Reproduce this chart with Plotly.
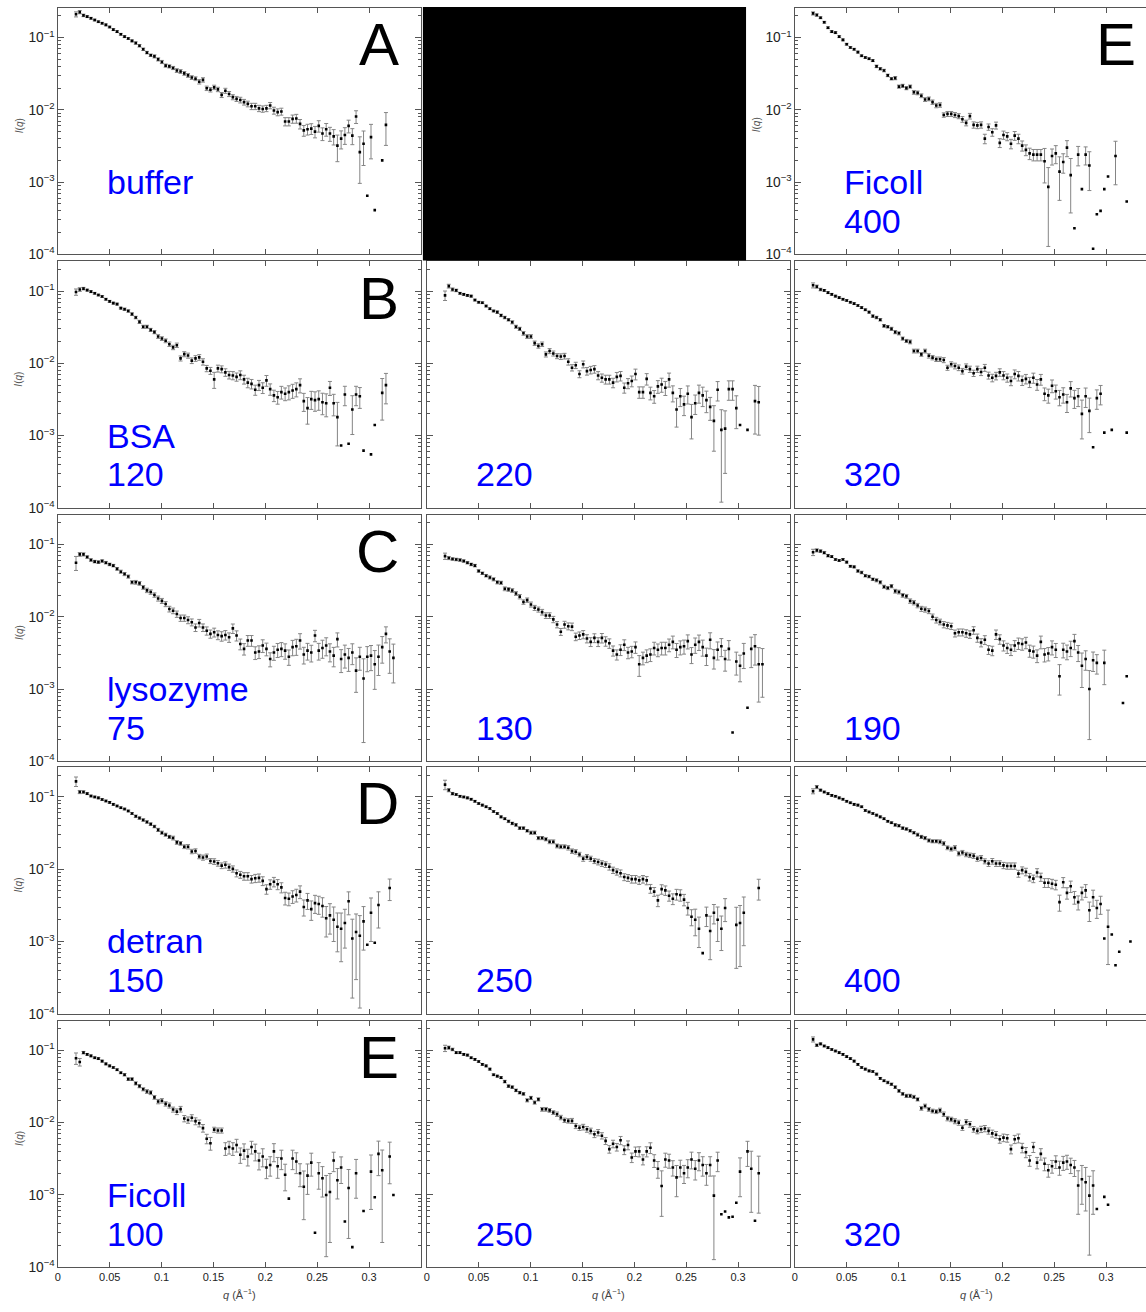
import plotly.graph_objects as go

N = None
# momentum transfer grid q (1/Angstrom)
Q = [0.0175, 0.0211, 0.0247, 0.0283, 0.0319, 0.0355, 0.0391, 0.0427, 0.0463, 0.0499,
     0.0535, 0.0571, 0.0607, 0.0643, 0.0679, 0.0715, 0.0751, 0.0787, 0.0823, 0.0859,
     0.0895, 0.0931, 0.0967, 0.1003, 0.1039, 0.1075, 0.1111, 0.1147, 0.1183, 0.1219,
     0.1255, 0.1291, 0.1327, 0.1363, 0.1399, 0.1435, 0.1471, 0.1507, 0.1543, 0.1579,
     0.1615, 0.1651, 0.1687, 0.1723, 0.1759, 0.1795, 0.1831, 0.1867, 0.1903, 0.1939,
     0.1975, 0.2011, 0.2047, 0.2083, 0.2119, 0.2155, 0.2191, 0.2227, 0.2263, 0.2299,
     0.2335, 0.2371, 0.2407, 0.2443, 0.2479, 0.2515, 0.2551, 0.2587, 0.2623, 0.2659,
     0.2695, 0.2731, 0.2767, 0.2803, 0.2839, 0.2875, 0.2911, 0.2947, 0.2983, 0.3019,
     0.3055, 0.3091, 0.3127, 0.3163, 0.3199, 0.3235]

# Intensities I(q) in units of 1e-3 ; errors in percent (0 = no error bar drawn)
buffer_I = [210, 225, 203, 195, 185, 175, 166, 158, 150, 140,
            129, 121, 111, 103, 97, 90, 84, 77, 69, 62,
            57, 55, 50, 46, 41, 40, 38, 35, 34, 32,
            30, 28, 27, 24.5, 26, 19.9, 19.0, 20.5, 19.2, 16.1,
            18.4, 16.6, 15, 14.2, 13.7, 12.8, 12.1, 11.2, 11.2, 10.5,
            10.3, 10.5, 11.5, 9.8, 9.3, 9.5, 6.9, 6.9, 7.5, 7.6,
            6.4, 5.2, 5.4, 5.5, 5.0, 6.0, 4.7, 5.4, 4.7, 4.3,
            3.2, 4.0, 4.5, 6.0, 4.4, 8.1, 2.6, 3.4, 0.65, 4.2,
            0.41, N, 2.0, 6.2]
buffer_E = [8, 5, 4, 3, 3, 3, 3, 3, 3, 3,
            3, 3, 3, 3, 3, 3, 4, 4, 4, 4,
            4, 5, 5, 5, 5, 5, 5, 6, 6, 6,
            6, 6, 6, 7, 7, 7, 7, 7, 7, 8,
            8, 8, 8, 8, 9, 9, 9, 10, 10, 10,
            10, 10, 10, 11, 11, 11, 13, 13, 13, 14,
            15, 17, 17, 17, 18, 18, 20, 20, 22, 24,
            40, 28, 26, 20, 25, 20, 63, 50, 0, 50,
            0, 0, 0, 48]

bsa120_I = [97, 105, 108, 103, 98, 93, 88, 84, 77, 72,
            68, 66, 58, 56, 53, 48, 43, 37.5, 32, 32,
            29, 27, 23.5, 22, 20.5, 18.4, 16.6, 17.8, 11.7, 13.4,
            12.8, 10.9, 11.7, 12.1, 10.5, 8.5, 7.9, 6.0, 8.5, 8.3,
            7.5, 6.9, 6.8, 6.5, 6.9, 6.0, 5.4, 5.2, 4.3, 5.0,
            4.6, 5.8, 4.4, 3.6, 3.4, 4.0, 3.8, 4.0, 4.2, 4.4,
            5.0, 3.0, 2.4, 3.2, 3.1, 3.2, 2.9, 2.8, 4.6, 2.8,
            1.8, 0.73, 3.7, 0.77, 2.3, 3.7, 3.5, 0.62, N, 0.55,
            1.4, N, 3.9, 5.0]
bsa120_E = [10, 6, 4, 3, 3, 3, 3, 3, 3, 3,
            3, 3, 3, 4, 4, 4, 4, 5, 5, 5,
            5, 5, 6, 6, 6, 7, 7, 7, 8, 8,
            8, 9, 9, 9, 10, 10, 11, 25, 11, 11,
            12, 12, 13, 13, 14, 14, 15, 15, 16, 16,
            17, 17, 18, 18, 20, 20, 20, 22, 22, 22,
            22, 28, 40, 28, 30, 30, 33, 35, 22, 33,
            60, 0, 30, 0, 55, 30, 32, 0, 0, 0,
            0, 0, 58, 45]

bsa220_I = [87, 117, 105, 102, 93, 90, 87, 85, 75, 70,
            69, 62, 57, 53, 51, 46, 43, 40, 37, 32,
            30, 26, 23.5, 23.5, 19.0, 17.4, 18.4, 13.3, 14.8, 13.7,
            12.6, 12.4, 12.6, 10.5, 8.7, 9.4, 7.1, 9.7, 7.8, 8.1,
            8.3, 6.8, 6.3, 6.0, 6.0, 5.4, 6.5, 6.7, 4.6, 5.3,
            5.7, 7.1, 4.0, 4.0, 6.1, 3.9, 3.5, 4.8, 5.1, 4.6,
            6.0, 3.9, 2.3, 3.5, 2.7, 3.8, 1.8, 2.8, 3.9, 3.6,
            3.1, 2.5, 1.6, 4.3, 1.2, 1.25, 4.4, 4.4, 2.4, 1.4,
            N, 1.2, N, 3.0, 2.9]
bsa220_E = [15, 6, 5, 4, 3, 3, 3, 3, 3, 3,
            3, 3, 3, 3, 4, 4, 4, 4, 5, 5,
            5, 6, 6, 6, 7, 7, 7, 8, 8, 8,
            8, 9, 9, 10, 10, 10, 11, 11, 12, 12,
            12, 13, 13, 14, 14, 15, 15, 15, 16, 16,
            17, 17, 18, 18, 18, 20, 20, 20, 22, 22,
            22, 25, 43, 28, 30, 28, 50, 30, 28, 30,
            33, 35, 62, 30, 90, 76, 30, 30, 48, 0,
            0, 0, 0, 65, 65]

bsa320_I = [120, 115, 105, 102, 95, 90, 85, 81, 77, 74,
            70, 67, 63, 59, 55, 51, 45, 43, 40, 33,
            32, 30, 27, 26, 22, 20.4, 19.8, 14.8, 14.8, 13.3,
            14.8, 12.7, 12.0, 11.4, 11.4, 11.1, 8.7, 9.7, 9.2, 8.7,
            7.8, 9.0, 8.3, 7.3, 8.3, 7.6, 8.7, 6.8, 6.3, 6.7,
            7.5, 6.8, 6.3, 5.7, 7.1, 6.7, 5.8, 6.1, 5.5, 6.3,
            5.1, 6.0, 3.8, 3.6, 4.9, 4.1, 3.4, 3.7, 2.9, 4.5,
            3.3, 3.5, 2.0, 3.5, 2.2, 0.69, 3.3, 3.8, 1.1, N,
            1.2, N, N, N, 1.1]
bsa320_E = [8, 5, 4, 3, 3, 3, 3, 3, 3, 3,
            3, 3, 3, 3, 3, 3, 4, 4, 4, 4,
            4, 5, 5, 5, 5, 5, 6, 6, 6, 6,
            6, 7, 7, 7, 7, 8, 8, 8, 9, 9,
            9, 9, 10, 10, 10, 11, 11, 11, 12, 12,
            12, 13, 13, 14, 14, 15, 15, 15, 16, 16,
            17, 17, 20, 22, 20, 22, 24, 24, 28, 24,
            28, 28, 55, 30, 50, 0, 30, 30, 0, 0,
            0, 0, 0, 0, 0]

lys75_I = [56, 73, 73, 67, 61, 58, 57, 59, 56, 53,
           51, 46, 42, 39, 36, 30, 30, 29, 25.5, 23.2,
           22, 20, 17.9, 16.6, 15, 12.8, 12.1, 10.9, 9.6, 9.6,
           9.0, 8.4, 7.1, 8.2, 7.1, 6.4, 5.8, 6.1, 5.6, 5.4,
           5.6, 5.2, 6.9, 5.5, 4.2, 3.6, 4.7, 4.7, 3.2, 3.3,
           4.0, 3.6, 2.6, 3.2, 3.5, 3.6, 3.4, 2.8, 3.8, 3.9,
           4.7, 3.0, 3.4, 3.2, 5.5, 3.4, 3.7, 4.0, 3.3, 2.9,
           4.9, 2.6, 3.0, 2.7, 3.2, 1.8, 2.8, 1.4, 2.8, 2.9,
           2.2, 2.8, 3.8, 5.8, 3.3, 2.7]
lys75_E = [22, 6, 5, 4, 4, 4, 4, 4, 4, 4,
           4, 4, 5, 5, 5, 5, 6, 6, 6, 7,
           7, 7, 8, 8, 8, 9, 9, 10, 10, 10,
           11, 11, 12, 12, 12, 13, 13, 14, 14, 15,
           15, 15, 15, 16, 17, 18, 17, 17, 20, 20,
           20, 20, 22, 22, 22, 22, 24, 24, 24, 25,
           24, 26, 26, 26, 18, 26, 28, 28, 28, 30,
           22, 35, 35, 35, 32, 50, 35, 87, 38, 38,
           55, 45, 40, 25, 50, 55]

lys130_I = [69, 65, 63, 62, 61, 59, 56, 53, 51, 43,
            40, 37, 35, 33, 30, 29.5, 24.4, 23.9, 23.1, 21,
            19, 16, 17, 14.8, 13.3, 12.6, 11.6, 10.4, 10.4, 9.2,
            7.8, 6.2, 7.8, 7.4, 7.3, 5.3, 5.5, 5.7, 5.0, 4.5,
            5.1, 4.5, 5.1, 4.6, 4.3, 3.4, 3.0, 3.5, 4.1, 3.2,
            3.3, 3.8, 2.2, 2.7, 2.9, 3.0, 3.7, 3.5, 3.7, 3.7,
            4.1, 4.5, 3.5, 3.8, 3.9, 4.6, 3.0, 4.1, 4.5, 3.8,
            2.9, 4.8, 2.7, 3.5, 3.9, 2.6, 3.6, 0.25, 2.4, 2.1,
            3.1, 0.55, 3.6, 3.9, 2.2, 2.2]
lys130_E = [10, 5, 4, 4, 4, 4, 4, 4, 4, 4,
            4, 4, 5, 5, 5, 5, 6, 6, 6, 6,
            7, 7, 7, 8, 8, 8, 9, 9, 9, 10,
            10, 11, 11, 11, 12, 12, 12, 13, 13, 14,
            14, 14, 15, 15, 15, 16, 16, 17, 17, 18,
            18, 18, 32, 20, 20, 20, 20, 20, 20, 20,
            20, 20, 22, 22, 22, 22, 25, 24, 24, 25,
            27, 25, 30, 28, 28, 32, 30, 0, 35, 40,
            38, 0, 45, 45, 70, 65]

lys190_I = [78, 83, 81, 77, 70, 68, 62, 60, 62, 57,
            50, 49, 43, 41, 37, 36, 33, 32, 30, 26,
            25, 26.5, 22.6, 22, 19.8, 19.2, 16.5, 15.7, 14.3, 12.9,
            12.6, 12.0, 10.0, 9.0, 8.5, 7.8, 7.6, 7.4, 5.9, 6.1,
            6.1, 5.9, 5.7, 6.5, 5.1, 4.4, 4.8, 3.5, 3.4, 5.7,
            4.9, 4.0, 3.7, 3.5, 4.0, 4.3, 4.2, 4.4, 3.4, 3.3,
            2.9, 4.5, 3.0, 3.1, 3.8, 3.5, 1.5, 3.5, 3.3, 3.7,
            4.6, 3.2, 2.1, 2.6, 1.0, 2.5, 2.3, N, 2.3, N,
            N, N, N, 0.64, 1.5]
lys190_E = [10, 5, 4, 4, 4, 3, 3, 3, 3, 3,
            3, 3, 4, 4, 4, 4, 4, 5, 5, 5,
            5, 5, 6, 6, 6, 6, 7, 7, 7, 8,
            8, 8, 9, 9, 9, 10, 10, 10, 11, 11,
            11, 12, 12, 12, 13, 13, 14, 14, 15, 15,
            15, 16, 16, 17, 17, 18, 18, 18, 19, 19,
            20, 20, 21, 21, 22, 22, 45, 23, 23, 24,
            24, 25, 50, 30, 80, 30, 30, 0, 50, 0,
            0, 0, 0, 0, 0]

dex150_I = [164, 117, 117, 111, 103, 100, 97, 92, 88, 84,
            79, 75, 71, 68, 64, 59, 54, 51, 48, 45,
            42, 39, 35, 32, 30, 28, 27, 23.5, 22.8, 20.5,
            20.5, 17.6, 17.9, 15, 14.5, 15, 13, 12.8, 12.1, 11.2,
            11.5, 10.7, 10.1, 8.8, 8.4, 8.0, 8.0, 7.3, 7.5, 7.6,
            6.9, 5.3, 6.2, 6.7, 6.2, 5.6, 4.0, 3.9, 4.2, 4.4,
            4.9, 3.0, 3.7, 2.8, 3.4, 3.3, 3.1, 2.1, 2.3, 2.0,
            1.6, 1.5, 1.8, 3.6, 1.1, 1.35, 1.2, 1.9, 0.9, 2.5,
            0.96, 3.2, N, N, 5.5]
dex150_E = [15, 5, 4, 3, 3, 3, 3, 3, 3, 3,
            3, 3, 3, 3, 3, 3, 4, 4, 4, 4,
            4, 4, 5, 5, 5, 5, 6, 6, 6, 6,
            7, 7, 7, 7, 8, 8, 8, 9, 9, 9,
            10, 10, 10, 11, 11, 12, 12, 12, 13, 13,
            14, 15, 15, 15, 16, 16, 20, 20, 20, 20,
            20, 25, 25, 30, 28, 28, 30, 45, 45, 50,
            55, 65, 55, 35, 85, 78, 90, 60, 0, 60,
            0, 52, 0, 0, 33]

dex250_I = [148, 124, 111, 108, 102, 100, 97, 93, 87, 81,
            77, 73, 69, 63, 59, 53, 50, 46, 43, 41,
            37, 37, 34, 32, 32, 27, 27, 26, 24, 24,
            21, 20.5, 20.5, 19.8, 17.8, 17.4, 16, 14, 14.8, 14,
            13, 12.6, 12.0, 11.6, 10.8, 9.7, 9.2, 8.8, 7.8, 7.6,
            7.3, 7.3, 7.0, 7.3, 7.0, 5.4, 4.9, 3.7, 5.3, 5.1,
            4.3, 3.9, 4.5, 4.4, 3.8, 2.9, 2.2, 2.0, 1.5, 0.69,
            2.3, 1.4, 2.5, 2.0, 1.5, 2.9, N, N, 1.7, 1.8,
            2.5, N, N, N, 5.5]
dex250_E = [15, 5, 4, 3, 3, 3, 3, 3, 3, 3,
            3, 3, 3, 3, 3, 3, 3, 4, 4, 4,
            4, 4, 4, 5, 5, 5, 5, 5, 6, 6,
            6, 6, 6, 7, 7, 7, 7, 8, 8, 8,
            8, 9, 9, 9, 10, 10, 10, 11, 11, 11,
            12, 12, 12, 12, 13, 14, 14, 18, 15, 15,
            16, 17, 17, 18, 18, 20, 25, 40, 45, 0,
            30, 60, 30, 50, 50, 35, 0, 0, 75, 75,
            65, 0, 0, 0, 32]

dex400_I = [120, 137, 124, 117, 111, 105, 102, 97, 93, 87,
            83, 79, 77, 73, 65, 62, 59, 56, 53, 50,
            46, 44, 41, 40, 37, 36, 34, 32, 30, 28,
            27, 25, 24.4, 24.4, 24, 22.7, 19.8, 19, 19.8, 16.5,
            17, 16, 15.6, 15.3, 14, 14.3, 12.9, 12.0, 12.9, 12.0,
            12.0, 11.3, 11.1, 11.1, 11.1, 8.7, 9.7, 9.2, 7.8, 7.4,
            9.0, 7.8, 6.5, 6.5, 6.3, 6.1, 3.5, 6.6, 4.7, 5.8,
            4.1, 3.5, 4.7, 5.1, 2.7, 4.1, 2.9, 3.3, 1.1, 1.6,
            1.25, 0.47, 0.72, N, N, 1.0]
dex400_E = [8, 5, 3, 3, 3, 3, 3, 3, 3, 3,
            3, 3, 3, 3, 3, 3, 3, 3, 3, 3,
            3, 3, 4, 4, 4, 4, 4, 4, 5, 5,
            5, 5, 5, 5, 6, 6, 6, 6, 7, 7,
            7, 7, 7, 8, 8, 8, 8, 9, 9, 9,
            9, 10, 10, 10, 10, 11, 11, 12, 12, 12,
            13, 13, 14, 14, 15, 15, 25, 16, 18, 18,
            20, 22, 20, 20, 30, 25, 28, 28, 0, 70,
            0, 0, 0, 0, 0, 0]

fic100_I = [78, 69, 93, 88, 84, 79, 77, 71, 65, 61,
            58, 54, 49, 46, 40, 40, 35, 32, 29, 27,
            26, 22.4, 19.6, 20.1, 18.2, 17.3, 15.2, 14.2, 15.4, 11.4,
            10.9, 11.7, 10.5, 9.8, 8.4, 6.0, 5.2, 8.0, 7.8, 7.8,
            4.4, 4.6, 4.4, 4.9, 3.6, 4.1, 3.4, 4.6, 4.0, 3.0,
            3.4, 2.4, 2.6, 4.0, 2.5, 3.2, 1.9, 0.89, 3.2, 2.9,
            2.0, 1.3, 1.85, 2.8, 0.3, 2.0, 1.7, 1.0, 1.1, 3.0,
            1.6, 2.4, 0.43, 1.25, 0.19, 2.0, N, 0.6, N, 2.1,
            0.93, 3.7, 2.2, N, 3.4, 1.0]
fic100_E = [18, 12, 4, 3, 3, 3, 3, 3, 3, 3,
            3, 3, 3, 4, 4, 4, 5, 5, 5, 6,
            6, 6, 7, 7, 7, 8, 8, 9, 9, 10,
            10, 10, 11, 11, 12, 15, 20, 8, 8, 8,
            20, 20, 20, 20, 24, 24, 26, 20, 26, 26,
            28, 30, 30, 28, 32, 30, 40, 0, 30, 32,
            35, 65, 45, 35, 0, 40, 45, 86, 80, 30,
            45, 40, 0, 80, 0, 55, 0, 0, 0, 70,
            0, 50, 90, 0, 58, 0]

fic250_I = [107, 109, 103, 93, 93, 88, 86, 79, 75, 70,
            64, 61, 55, 46, 44, 42, 37, 32, 31, 28,
            26, 25, 20.4, 22, 19, 21, 15.3, 15.3, 14.8, 13.8,
            13.1, 11.8, 10.8, 10.6, 10.6, 9.0, 8.5, 8.7, 8.1, 7.7,
            6.9, 7.3, 6.6, 5.6, 4.3, 5.1, 4.6, 5.7, 4.2, 4.9,
            3.3, 4.0, 4.0, 3.1, 4.0, 4.5, 3.0, 2.3, 1.33, 3.1,
            3.0, 2.4, 1.75, 2.4, 2.0, 2.4, 3.1, 2.3, 3.0, 2.6,
            2.0, 2.6, 0.98, 3.0, 0.54, 0.59, 0.49, 0.5, 0.78, 2.1,
            N, 4.0, 2.3, 0.44, 2.0]
fic250_E = [10, 5, 4, 3, 3, 3, 3, 3, 3, 3,
            3, 3, 3, 3, 3, 3, 4, 4, 4, 4,
            4, 4, 5, 5, 5, 5, 6, 6, 6, 6,
            7, 7, 7, 7, 8, 8, 8, 9, 9, 9,
            10, 10, 10, 11, 12, 12, 12, 13, 14, 14,
            15, 15, 16, 16, 16, 17, 20, 26, 62, 22,
            22, 24, 46, 26, 28, 28, 26, 30, 28, 30,
            32, 30, 87, 30, 0, 0, 0, 0, 0, 55,
            0, 38, 75, 0, 72]

fic320_I = [142, 118, 123, 115, 109, 103, 98, 93, 88, 82,
            77, 71, 64, 58, 55, 52, 51, 47, 41, 38,
            36, 34, 31, 27.5, 25, 23.5, 23.5, 22.7, 21, 15.8,
            17, 15.3, 14.5, 14.2, 14.8, 13.1, 11.4, 11.1, 10.5, 10.0,
            8.5, 10.2, 9.5, 8.1, 7.7, 8.1, 8.3, 7.7, 7.1, 6.8,
            5.9, 6.2, 6.1, 4.3, 5.9, 6.1, 4.5, 3.9, 3.0, 4.6,
            2.8, 3.7, 2.7, 2.2, 2.5, 2.9, 2.4, 2.8, 2.9, 2.6,
            2.4, 1.35, 1.65, 1.5, 0.98, 1.35, 0.64, N, 0.94, 0.73]
fic320_E = [8, 4, 3, 3, 3, 3, 3, 3, 3, 3,
            3, 3, 3, 3, 3, 3, 3, 3, 3, 3,
            4, 4, 4, 4, 4, 5, 5, 5, 5, 6,
            6, 6, 6, 6, 7, 7, 7, 7, 8, 8,
            8, 8, 9, 9, 9, 10, 10, 10, 11, 11,
            12, 12, 12, 14, 13, 14, 15, 16, 17, 16,
            18, 18, 20, 20, 20, 20, 22, 22, 22, 24,
            25, 60, 55, 60, 85, 60, 0, 0, 0, 0]

fic400_I = [216, 205, 188, 163, 137, 121, 117, 103, 93, 81,
            73, 69, 63, 56, 53, 51, 48, 40, 37, 35,
            30, 27, 27.5, 21, 21.5, 20, 21, 17.5, 17.2, 15.7,
            13.9, 14.2, 12.8, 11.5, 11.7, 8.5, 8.8, 8.8, 8.5, 8.2,
            7.4, 6.6, 8.2, 6.2, 6.1, 6.2, 4.0, 5.8, 4.9, 6.1,
            3.5, 4.5, 4.3, 3.4, 4.4, 4.0, 3.2, 2.8, 2.5, 2.4,
            2.4, 2.4, 1.95, 0.86, 2.3, 2.5, 1.4, 1.9, 3.0, 1.25,
            0.23, 2.4, 0.8, 2.4, 1.7, 0.12, 0.36, 0.4, 0.8, 1.2,
            N, 2.3, N, N, 0.54]
fic400_E = [5, 4, 3, 3, 3, 3, 3, 3, 3, 3,
            3, 3, 3, 3, 3, 3, 3, 4, 4, 4,
            4, 4, 5, 5, 5, 5, 5, 6, 6, 6,
            6, 6, 7, 7, 7, 7, 8, 8, 8, 8,
            9, 9, 9, 10, 10, 10, 15, 10, 12, 11,
            14, 13, 13, 15, 14, 15, 16, 17, 18, 18,
            18, 18, 50, 85, 25, 28, 60, 30, 25, 70,
            0, 30, 0, 28, 55, 0, 0, 0, 0, 0,
            0, 60, 0, 0, 0]

# panel layout: (row, col, I, E, big letter, label line 1, label line 2)
PANELS = [
    (0, 0, buffer_I, buffer_E, "A", "buffer", None),
    (0, 2, fic400_I, fic400_E, "E", "Ficoll", "400"),
    (1, 0, bsa120_I, bsa120_E, "B", "BSA", "120"),
    (1, 1, bsa220_I, bsa220_E, None, None, "220"),
    (1, 2, bsa320_I, bsa320_E, None, None, "320"),
    (2, 0, lys75_I, lys75_E, "C", "lysozyme", "75"),
    (2, 1, lys130_I, lys130_E, None, None, "130"),
    (2, 2, lys190_I, lys190_E, None, None, "190"),
    (3, 0, dex150_I, dex150_E, "D", "detran", "150"),
    (3, 1, dex250_I, dex250_E, None, None, "250"),
    (3, 2, dex400_I, dex400_E, None, None, "400"),
    (4, 0, fic100_I, fic100_E, "E", "Ficoll", "100"),
    (4, 1, fic250_I, fic250_E, None, None, "250"),
    (4, 2, fic320_I, fic320_E, None, None, "320"),
]

X_TICKS = [0, 0.05, 0.1, 0.15, 0.2, 0.25, 0.3]
X_TICKTEXT = ["0", "0.05", "0.1", "0.15", "0.2", "0.25", "0.3"]

W, H = 1146, 1312
ROW_TOP = [8, 263, 518, 772, 1027]
PANEL_H = 248
COL_X = [(55, 419), (425, 789), (794, 1146)]
COL_XMAX = [0.35, 0.35, 0.3385]
Y_RANGE = [-4, -0.59]

FONT = "Liberation Sans, Arial, Helvetica, sans-serif"
AXCOL = "#555555"

fig = go.Figure()
layout = dict(width=W, height=H, margin=dict(l=0, r=0, t=0, b=0),
              paper_bgcolor="white", plot_bgcolor="white", showlegend=False,
              font=dict(family=FONT, size=11, color="#222222"))
annotations = []

for k, (r, c, Iv, Ev, letter, l1, l2) in enumerate(PANELS, start=1):
    xs = "" if k == 1 else str(k)
    qb, ib, eb, qd, idd = [], [], [], [], []
    for q, iv, ev in zip(Q, Iv, Ev):
        if iv is None:
            continue
        val = iv * 1e-3
        if ev and ev > 0:
            qb.append(q); ib.append(val); eb.append(val * ev / 100.0)
        else:
            qd.append(q); idd.append(val)
    fig.add_trace(go.Scatter(
        x=qb, y=ib, mode="markers", xaxis="x" + xs, yaxis="y" + xs,
        marker=dict(symbol="square", size=2.6, color="black"),
        error_y=dict(type="data", array=eb, visible=True, color="#858585",
                     thickness=1, width=2),
        hoverinfo="skip"))
    fig.add_trace(go.Scatter(
        x=qd, y=idd, mode="markers", xaxis="x" + xs, yaxis="y" + xs,
        marker=dict(symbol="square", size=2.6, color="black"),
        hoverinfo="skip"))

    x0, x1 = COL_X[c]
    top = ROW_TOP[r]
    bot = top + PANEL_H
    layout["xaxis" + xs] = dict(
        domain=[x0 / W, x1 / W], range=[0, COL_XMAX[c]], anchor="y" + xs,
        showline=True, linecolor=AXCOL, linewidth=1, mirror="ticks",
        ticks="inside", ticklen=5, tickcolor=AXCOL, tickwidth=1,
        tickvals=X_TICKS, ticktext=X_TICKTEXT, showticklabels=(r == 4),
        showgrid=False, zeroline=False,
        tickfont=dict(family=FONT, size=11, color="#222222"))
    layout["yaxis" + xs] = dict(
        domain=[1 - bot / H, 1 - top / H], type="log",
        range=Y_RANGE, anchor="x" + xs, dtick=1, exponentformat="power",
        showline=True, linecolor=AXCOL, linewidth=1,
        mirror=("ticks" if c < 2 else False),
        ticks="inside", ticklen=6, tickcolor=AXCOL, tickwidth=1,
        minor=dict(ticks="inside", ticklen=3, tickcolor=AXCOL, showgrid=False),
        showticklabels=(c == 0 or (r == 0 and c == 2)),
        showgrid=False, zeroline=False,
        tickfont=dict(family=FONT, size=11, color="#222222"))

    if letter:
        annotations.append(dict(
            xref="x" + xs, yref="y" + xs, x=0.331, y=-1.097, text=letter,
            showarrow=False, xanchor="right", yanchor="middle",
            font=dict(family=FONT, size=60, color="black")))
    if l1:
        annotations.append(dict(
            xref="x" + xs, yref="y" + xs, x=0.045, y=-3.0, text=l1,
            showarrow=False, xanchor="left", yanchor="middle",
            font=dict(family=FONT, size=34, color="#0000ff")))
    if l2:
        annotations.append(dict(
            xref="x" + xs, yref="y" + xs, x=0.045, y=-3.535, text=l2,
            showarrow=False, xanchor="left", yanchor="middle",
            font=dict(family=FONT, size=34, color="#0000ff")))
    if c == 0 or (r == 0 and c == 2):
        annotations.append(dict(
            xref="paper", yref="paper", x=(x0 - 39) / W,
            y=1 - (top + 118) / H, text="<i>I</i>(<i>q</i>)", showarrow=False,
            textangle=-90, xanchor="center", yanchor="middle",
            font=dict(family=FONT, size=10, color="#555555")))

for c in range(3):
    x0, x1 = COL_X[c]
    xc = x0 + 0.175 * 1040
    annotations.append(dict(
        xref="paper", yref="paper", x=xc / W, y=1 - 1302 / H,
        text="<i>q</i> (Å<sup>−1</sup>)", showarrow=False,
        xanchor="center", yanchor="middle",
        font=dict(family=FONT, size=11, color="#444444")))

layout["annotations"] = annotations
layout["shapes"] = [dict(type="rect", xref="paper", yref="paper",
                         x0=421 / W, x1=745 / W, y0=1 - 262 / H, y1=1 - 7 / H,
                         fillcolor="black", line=dict(width=0), layer="above")]
fig.update_layout(**layout)
fig.write_html(
    "out.html",
    config={"displayModeBar": False},
    post_script="document.body.style.margin='0';"
                "document.documentElement.style.overflow='hidden';")
